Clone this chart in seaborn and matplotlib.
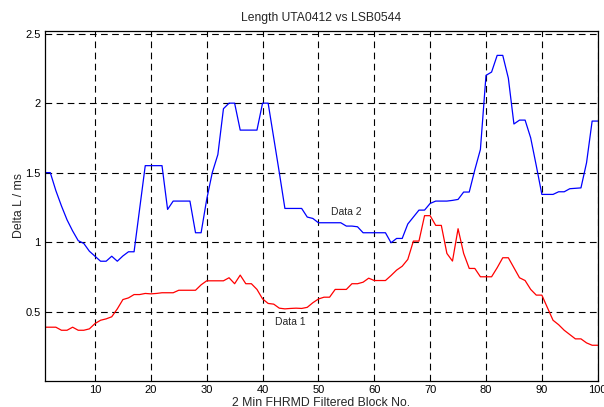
import numpy as np
import pandas as pd
import seaborn as sns
import matplotlib
matplotlib.use("Agg")
import matplotlib.pyplot as plt

# Block numbers 1..100
block_no = list(range(1, 101))

# Data 2 (blue)
data2 = [1.50, 1.50, 1.37, 1.26, 1.16, 1.08, 1.01, 0.99, 0.934, 0.898,
         0.862, 0.862, 0.898, 0.862, 0.90, 0.93, 0.93, 1.24, 1.55, 1.55,
         1.55, 1.55, 1.235, 1.295, 1.295, 1.295, 1.295, 1.067, 1.067, 1.307,
         1.50, 1.63, 1.96, 2.0, 2.0, 1.806, 1.806, 1.806, 1.806, 2.0,
         2.0, 1.75, 1.50, 1.242, 1.242, 1.242, 1.242, 1.18, 1.17, 1.139,
         1.139, 1.139, 1.139, 1.139, 1.115, 1.115, 1.11, 1.067, 1.067, 1.067,
         1.067, 1.067, 0.995, 1.026, 1.026, 1.13, 1.18, 1.23, 1.23, 1.278,
         1.295, 1.295, 1.295, 1.30, 1.307, 1.36, 1.36, 1.52, 1.667, 2.20,
         2.224, 2.344, 2.344, 2.18, 1.85, 1.878, 1.878, 1.75, 1.55, 1.343,
         1.343, 1.343, 1.362, 1.362, 1.384, 1.387, 1.39, 1.571, 1.871, 1.871]

# Data 1 (red)
data1 = [0.387, 0.387, 0.387, 0.365, 0.365, 0.387, 0.365, 0.365, 0.375, 0.413,
         0.437, 0.447, 0.462, 0.519, 0.586, 0.598, 0.622, 0.622, 0.63, 0.627,
         0.63, 0.635, 0.635, 0.635, 0.653, 0.653, 0.653, 0.653, 0.692, 0.721,
         0.721, 0.721, 0.721, 0.743, 0.70, 0.762, 0.70, 0.70, 0.659, 0.591,
         0.558, 0.553, 0.524, 0.519, 0.522, 0.524, 0.522, 0.53, 0.563, 0.59,
         0.603, 0.603, 0.659, 0.659, 0.659, 0.70, 0.70, 0.711, 0.74, 0.723,
         0.723, 0.723, 0.759, 0.798, 0.826, 0.875, 1.007, 1.007, 1.19, 1.19,
         1.12, 1.12, 0.918, 0.863, 1.096, 0.918, 0.81, 0.81, 0.75, 0.75,
         0.75, 0.815, 0.887, 0.887, 0.815, 0.743, 0.723, 0.659, 0.618, 0.618,
         0.527, 0.437, 0.405, 0.365, 0.334, 0.303, 0.303, 0.274, 0.257, 0.257]

x_ticks = [10, 20, 30, 40, 50, 60, 70, 80, 90, 100]
y_ticks = [0.5, 1, 1.5, 2, 2.5]
y_tick_labels = ["0.5", "1", "1.5", "2", "2.5"]

sns.set_theme(style="white")
plt.rcParams["font.family"] = ["Liberation Sans", "DejaVu Sans"]

df = pd.DataFrame({"block": block_no, "Data 1": data1, "Data 2": data2})

fig = plt.figure(figsize=(6.04, 4.07), dpi=100)
ax = fig.add_axes([0.074, 0.064, 0.9156, 0.86])

sns.lineplot(data=df, x="block", y="Data 2", color="#0000ff", linewidth=0.9, ax=ax)
sns.lineplot(data=df, x="block", y="Data 1", color="#ff0000", linewidth=0.9, ax=ax)

ax.set_xlim(1, 100)
ax.set_ylim(0, 2.52)
ax.set_xticks(x_ticks)
ax.set_yticks(y_ticks)
ax.set_yticklabels(y_tick_labels)
ax.tick_params(direction="in", length=3, labelsize=8, colors="black", pad=3)

# dashed black grid
ax.grid(True, color="black", linestyle=(0, (6, 4)), linewidth=0.8)
for spine in ax.spines.values():
    spine.set_color("black")
    spine.set_linewidth(0.9)

ax.set_title("Length UTA0412 vs LSB0544", fontsize=8.7, pad=7)
ax.set_xlabel("2 Min FHRMD Filtered Block No.", fontsize=8.8, labelpad=1)
ax.set_ylabel("Delta L / ms", fontsize=8.8, labelpad=0)

ax.text(52.3, 1.213, "Data 2", fontsize=7.5, va="center", ha="left")
ax.text(42.3, 0.424, "Data 1", fontsize=7.5, va="center", ha="left")

fig.savefig("out.png", dpi=100)
